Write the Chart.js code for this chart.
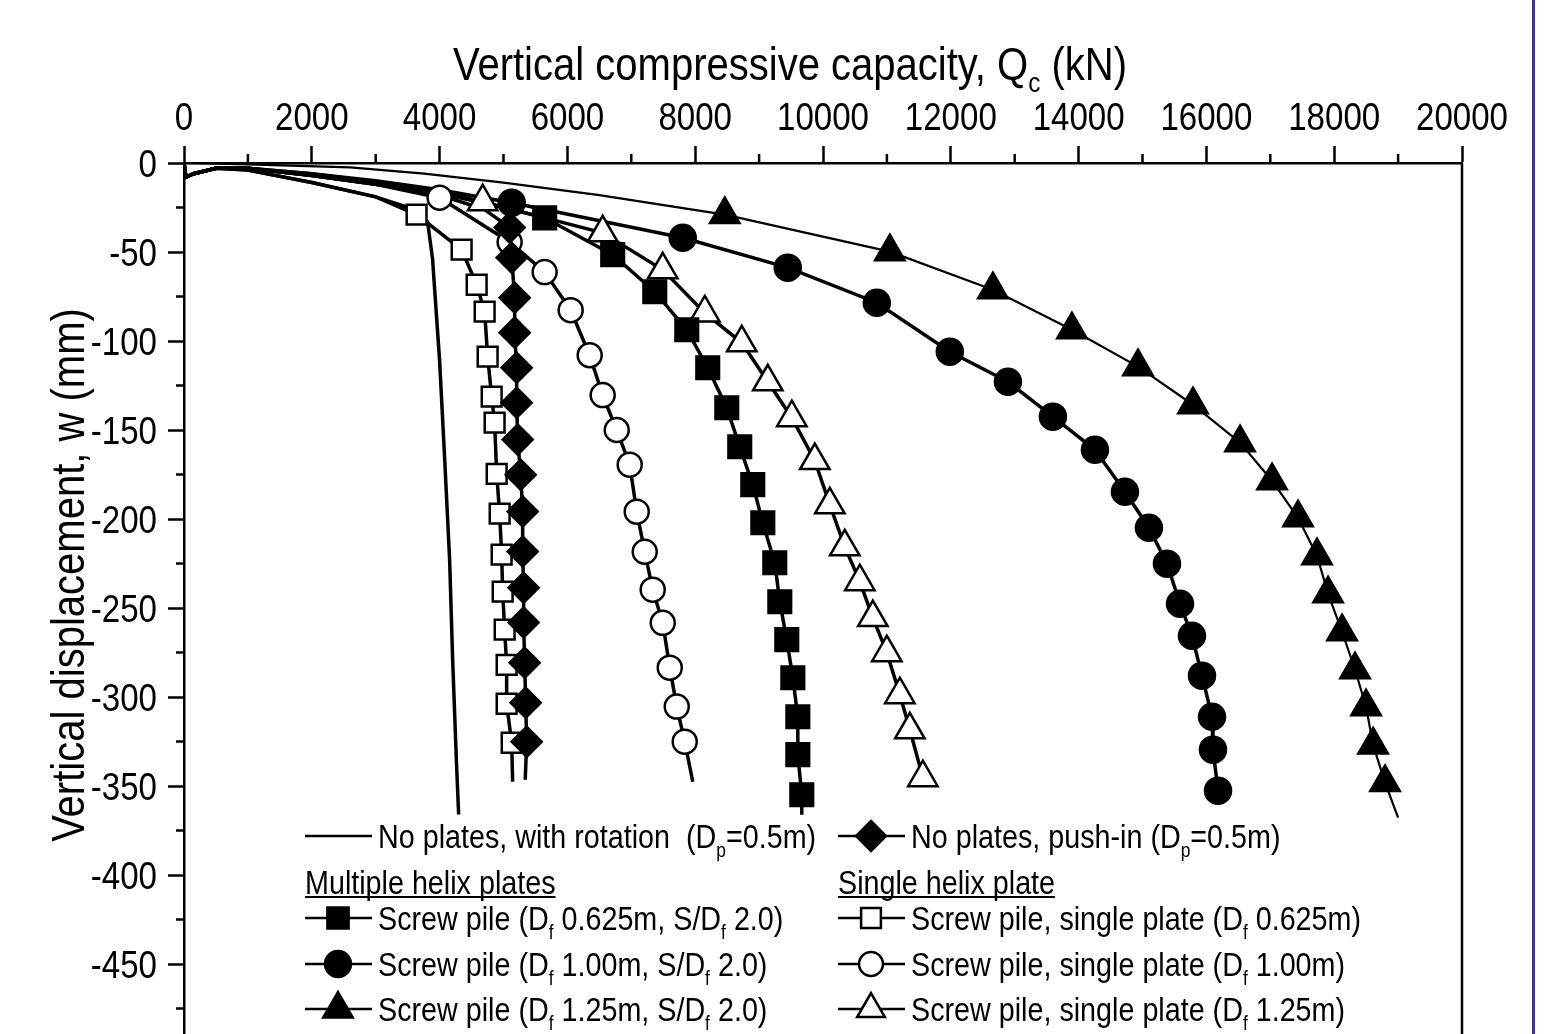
<!DOCTYPE html>
<html>
<head>
<meta charset="utf-8">
<script src="https://cdn.jsdelivr.net/npm/chart.js@4.4.1/dist/chart.umd.min.js"></script>
<style>
  html, body { margin: 0; padding: 0; background: #fff; }
  #wrap { position: relative; width: 1545px; height: 1034px; overflow: hidden; }
  #edge { position: absolute; left: 1532px; top: 0; width: 3px; height: 1034px; background: #3b3399; }
</style>
</head>
<body>
<div id="wrap">
  <canvas id="chart" width="1545" height="1090"></canvas>
  <div id="edge"></div>
</div>
<script>
const FONT = "'Liberation Sans Narrow', 'Arial Narrow', 'Liberation Sans', Arial, sans-serif";
const SX = 0.87; // the figure uses a narrow face, squeeze the text to match

// axis ticks: capacity Qc (kN) on top, displacement w (mm) on the left
const xTickValues = [0, 2000, 4000, 6000, 8000, 10000, 12000, 14000, 16000, 18000, 20000];
const xMinorTicks = [1000, 3000, 5000, 7000, 9000, 11000, 13000, 15000, 17000, 19000];
const yTickValues = [0, -50, -100, -150, -200, -250, -300, -350, -400, -450, -500];
const yMinorTicks = [-25, -75, -125, -175, -225, -275, -325, -375, -425, -475];

// [Qc kN, w mm] pairs
// no plates, with rotation (plain line)
const rotationLine = [[0,0],[30,-8],[150,-6],[500,-3],[1000,-4],[2000,-11],[3000,-19],[3600,-26],[3812,-33],[3890,-54],[4000,-111],[4079,-166],[4157,-223],[4204,-279],[4262,-335],[4298,-366]];

// no plates, push-in (diamonds)
const pushInPath = [[0,0],[30,-8],[150,-6],[500,-3],[1000,-3],[2000,-7],[3000,-12],[4000,-18],[4700,-26]];
const pushInMarks = [[5096,-36.3],[5128,-53.2],[5175,-75.7],[5175,-95.3],[5206,-115],[5206,-134.7],[5222,-155.4],[5269,-175.1],[5300,-195.8],[5300,-218.3],[5315,-238.6],[5315,-258.2],[5331,-280.7],[5347,-303.2],[5363,-325.1]];
const pushInTail = [[5340,-346.5]];

// multiple helix plates, Df 0.625m (filled squares)
const multi625Path = [[0,0],[30,-8],[150,-6],[500,-3],[1000,-3],[2000,-7],[3000,-12],[4000,-17],[5000,-25]];
const multi625Marks = [[5644,-30.8],[6709,-51.5],[7367,-72.3],[7868,-93.7],[8196,-115],[8494,-137.5],[8697,-159.4],[8901,-180.7],[9058,-202.1],[9245,-224.6],[9324,-246.5],[9433,-267.8],[9528,-289.2],[9606,-311.1],[9606,-332.4],[9668,-354.9]];
const multi625Tail = [[9668,-366.1]];

// multiple helix plates, Df 1.00m (filled circles)
const multi100Path = [[0,0],[30,-8],[150,-6],[500,-3],[1000,-3],[2000,-6],[3000,-10],[4000,-15]];
const multi100Marks = [[5128,-22.3],[7805,-42],[9449,-58.8],[10842,-78.5],[11985,-106],[12894,-122.9],[13598,-142.5],[14256,-161.1],[14725,-184.7],[15101,-204.9],[15383,-225.1],[15587,-247.6],[15774,-265.6],[15931,-288],[16088,-311.1],[16103,-329.6],[16182,-352.6]];
const multi100Tail = [];

// multiple helix plates, Df 1.25m (filled triangles)
const multi125Path = [[0,0],[1000,-0.8],[2600,-2.5],[3760,-6],[5000,-11],[6500,-18]];
const multi125Marks = [[8463,-29],[11046,-49.8],[12658,-71.2],[13896,-93.7],[14929,-114.4],[15790,-135.8],[16526,-157.1],[17027,-178.5],[17434,-199.3],[17731,-220.6],[17904,-242],[18123,-263.3],[18326,-284.7],[18499,-305.5],[18609,-326.9],[18796,-348.1]];
const multi125Tail = [[19000,-367.8]];

// single helix plate, Df 0.625m (open squares)
const single625Path = [[0,0],[30,-8],[150,-6],[500,-3],[1000,-4],[2000,-11],[3000,-19]];
const single625Marks = [[3640,-29],[4345,-48.7],[4580,-68.4],[4705,-83.5],[4752,-108.8],[4815,-131.3],[4861,-145.9],[4893,-174.6],[4940,-197],[4971,-220],[4987,-240.8],[5018,-262.2],[5049,-281.9],[5049,-303.8],[5128,-325.7]];
const single625Tail = [[5143,-347.6]];

// single helix plate, Df 1.00m (open circles)
const single100Path = [[0,0],[30,-8],[150,-6],[500,-3],[1000,-3],[2000,-7],[3000,-12]];
const single100Marks = [[4000,-19.5],[5096,-44.4],[5644,-61.3],[6051,-82.7],[6349,-108],[6552,-130.4],[6772,-150],[6975,-169.5],[7085,-195.9],[7210,-218.4],[7335,-239.7],[7492,-258.3],[7602,-283.5],[7711,-305.4],[7836,-325.1]];
const single100Tail = [[7962,-347.6]];

// single helix plate, Df 1.25m (open triangles)
const single125Path = [[0,0],[30,-8],[150,-6],[500,-3],[1000,-3],[2000,-6],[3000,-11],[4000,-16]];
const single125Marks = [[4674,-21.7],[6552,-39.2],[7492,-60],[8150,-84.2],[8729,-101],[9136,-122.9],[9512,-143.1],[9872,-167.2],[10107,-192],[10341,-215.6],[10576,-235.2],[10780,-255.4],[10999,-275.1],[11203,-298.7],[11359,-318.4],[11563,-345.3]];
const single125Tail = [];

const legendLabels = [
  'No plates, with rotation  (D_{p}=0.5m)',
  'No plates, push-in (D_{p}=0.5m)',
  'Multiple helix plates',
  'Single helix plate',
  'Screw pile (D_{f} 0.625m, S/D_{f} 2.0)',
  'Screw pile, single plate (D_{f} 0.625m)',
  'Screw pile (D_{f} 1.00m, S/D_{f} 2.0)',
  'Screw pile, single plate (D_{f} 1.00m)',
  'Screw pile (D_{f} 1.25m, S/D_{f} 2.0)',
  'Screw pile, single plate (D_{f} 1.25m)'
];

const toXY = arr => arr.map(p => ({ x: p[0], y: p[1] }));

function lineSet(points, width) {
  return {
    data: toXY(points), showLine: true, borderColor: '#000', borderWidth: width,
    pointRadius: 0, tension: 0, order: 2
  };
}
function markSet(points, style, radius, filled) {
  return {
    data: toXY(points), showLine: false, pointStyle: style, pointRadius: radius,
    pointBackgroundColor: filled ? '#000' : '#fff', pointBorderColor: '#000',
    pointBorderWidth: 2.5, order: 1
  };
}

const datasets = [
  lineSet(rotationLine, 3.5),
  lineSet([...pushInPath, ...pushInMarks, ...pushInTail], 3.5),
  lineSet([...multi625Path, ...multi625Marks, ...multi625Tail], 3.5),
  lineSet([...multi100Path, ...multi100Marks, ...multi100Tail], 3.5),
  lineSet([...multi125Path, ...multi125Marks, ...multi125Tail], 2.2),
  lineSet([...single625Path, ...single625Marks, ...single625Tail], 3.5),
  lineSet([...single100Path, ...single100Marks, ...single100Tail], 3.5),
  lineSet([...single125Path, ...single125Marks, ...single125Tail], 3.5),
  markSet(pushInMarks, 'rectRot', 15, true),
  markSet(multi625Marks, 'rect', 16, true),
  markSet(multi100Marks, 'circle', 13, true),
  markSet(multi125Marks, 'triangle', 17, true),
  markSet(single625Marks, 'rect', 14, false),
  markSet(single100Marks, 'circle', 12, false),
  markSet(single125Marks, 'triangle', 17, false)
];

// squeezed text, anchored at (x, y) with the given alignment
function squeezed(ctx, text, x, y, size, align) {
  ctx.save();
  ctx.font = size + 'px ' + FONT;
  ctx.textAlign = align || 'left';
  ctx.translate(x, y);
  ctx.scale(SX, 1);
  ctx.fillText(text, 0, 0);
  ctx.restore();
}
// text with D_{f} style subscripts
function richWidth(ctx, text, size) {
  let w = 0;
  text.split(/_\{([^}]*)\}/).forEach((p, i) => {
    ctx.font = (i % 2 ? Math.round(size * 0.6) : size) + 'px ' + FONT;
    w += ctx.measureText(p).width * SX;
  });
  return w;
}
function drawRich(ctx, text, x, y, size) {
  let cx = x;
  text.split(/_\{([^}]*)\}/).forEach((p, i) => {
    const sub = i % 2 === 1;
    const fs = sub ? Math.round(size * 0.6) : size;
    squeezed(ctx, p, cx, sub ? y + size * 0.26 : y, fs, 'left');
    ctx.font = fs + 'px ' + FONT;
    cx += ctx.measureText(p).width * SX;
  });
  return cx - x;
}
function drawMarker(ctx, style, filled, x, y, r) {
  ctx.beginPath();
  if (style === 'rect') {
    const s = r * Math.SQRT1_2;
    ctx.rect(x - s, y - s, 2 * s, 2 * s);
  } else if (style === 'circle') {
    ctx.arc(x, y, r, 0, 2 * Math.PI);
  } else if (style === 'triangle') {
    ctx.moveTo(x, y - r); ctx.lineTo(x + 0.866 * r, y + r / 2); ctx.lineTo(x - 0.866 * r, y + r / 2); ctx.closePath();
  } else if (style === 'rectRot') {
    ctx.moveTo(x, y - r); ctx.lineTo(x + r, y); ctx.lineTo(x, y + r); ctx.lineTo(x - r, y); ctx.closePath();
  }
  ctx.fillStyle = filled ? '#000' : '#fff';
  ctx.fill();
  ctx.lineWidth = 2.5;
  ctx.strokeStyle = '#000';
  ctx.stroke();
}

const extras = {
  id: 'extras',
  afterDraw(chart) {
    const ctx = chart.ctx;
    const area = chart.chartArea;
    const xs = chart.scales.x, ys = chart.scales.y;
    ctx.save();
    ctx.strokeStyle = '#000';
    ctx.lineWidth = 2.5;
    // minor ticks
    ctx.beginPath();
    xMinorTicks.forEach(v => {
      const px = xs.getPixelForValue(v);
      ctx.moveTo(px, area.top); ctx.lineTo(px, area.top - 9);
    });
    yMinorTicks.forEach(v => {
      const py = ys.getPixelForValue(v);
      ctx.moveTo(area.left, py); ctx.lineTo(area.left - 8, py);
    });
    // right and bottom frame
    ctx.moveTo(area.right, area.top); ctx.lineTo(area.right, area.bottom);
    ctx.lineTo(area.left, area.bottom);
    ctx.stroke();

    ctx.fillStyle = '#000';
    ctx.textBaseline = 'alphabetic';
    // tick labels
    xTickValues.forEach(v => squeezed(ctx, String(v), xs.getPixelForValue(v), 130, 38, 'center'));
    yTickValues.forEach(v => squeezed(ctx, String(v), area.left - 27, ys.getPixelForValue(v) + 13.5, 38, 'right'));

    // top axis title
    const title = 'Vertical compressive capacity, Q_{c} (kN)';
    const tw = richWidth(ctx, title, 46);
    drawRich(ctx, title, 790 - tw / 2, 80, 46);
    // left axis title
    ctx.save();
    ctx.translate(84, 575);
    ctx.rotate(-Math.PI / 2);
    squeezed(ctx, 'Vertical displacement, w (mm)', 0, 0, 46, 'center');
    ctx.restore();

    // legend
    const colX = [305, 838];
    const rowY = [836, 882, 918, 964, 1009];
    const size = 33;
    const items = [
      { c: 0, r: 0, style: null },
      { c: 1, r: 0, style: 'rectRot', filled: true, rad: 15 },
      { c: 0, r: 1, head: true },
      { c: 1, r: 1, head: true },
      { c: 0, r: 2, style: 'rect', filled: true, rad: 15 },
      { c: 1, r: 2, style: 'rect', filled: false, rad: 14 },
      { c: 0, r: 3, style: 'circle', filled: true, rad: 13 },
      { c: 1, r: 3, style: 'circle', filled: false, rad: 12 },
      { c: 0, r: 4, style: 'triangle', filled: true, rad: 17 },
      { c: 1, r: 4, style: 'triangle', filled: false, rad: 16 }
    ];
    items.forEach((it, i) => {
      const x = colX[it.c], y = rowY[it.r];
      ctx.fillStyle = '#000';
      if (it.head) {
        const w = drawRich(ctx, legendLabels[i], x, y + 12, size);
        ctx.beginPath();
        ctx.lineWidth = 2;
        ctx.moveTo(x, y + 15); ctx.lineTo(x + w, y + 15);
        ctx.stroke();
        return;
      }
      ctx.beginPath();
      ctx.lineWidth = 2.5;
      ctx.moveTo(x, y); ctx.lineTo(x + 67, y);
      ctx.stroke();
      if (it.style) drawMarker(ctx, it.style, it.filled, x + 33, y, it.rad);
      ctx.fillStyle = '#000';
      drawRich(ctx, legendLabels[i], x + 73, y + 12, size);
    });
    ctx.restore();
  }
};

new Chart(document.getElementById('chart'), {
  type: 'scatter',
  data: { datasets: datasets },
  options: {
    responsive: false,
    animation: false,
    events: [],
    layout: { padding: { left: 0, top: 0, right: 83, bottom: 37 } },
    plugins: { legend: { display: false }, tooltip: { enabled: false } },
    scales: {
      x: {
        type: 'linear', position: 'top', min: 0, max: 20000,
        afterBuildTicks: s => { s.ticks = xTickValues.map(v => ({ value: v })); },
        afterFit: s => { s.height = 163; },
        ticks: { display: false },
        grid: { drawOnChartArea: false, tickLength: 17, tickWidth: 2.5, tickColor: '#000' },
        border: { color: '#000', width: 2.5 }
      },
      y: {
        type: 'linear', position: 'left', min: -500, max: 0,
        afterBuildTicks: s => { s.ticks = yTickValues.map(v => ({ value: v })); },
        afterFit: s => { s.width = 184; },
        ticks: { display: false },
        grid: { drawOnChartArea: false, tickLength: 16, tickWidth: 2.5, tickColor: '#000' },
        border: { color: '#000', width: 2.5 }
      }
    }
  },
  plugins: [extras]
});
</script>
</body>
</html>
